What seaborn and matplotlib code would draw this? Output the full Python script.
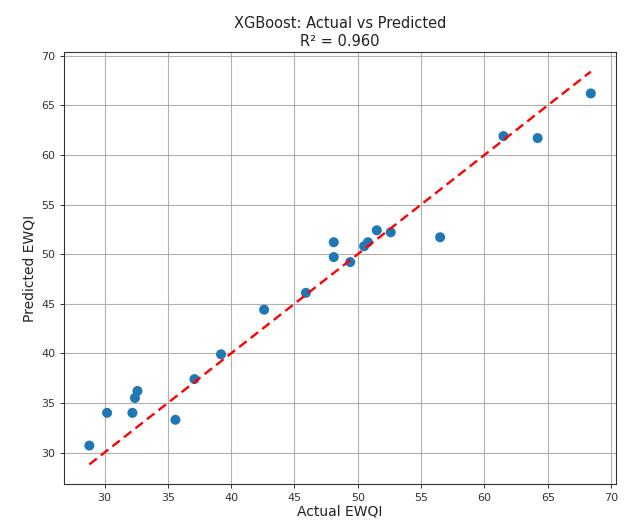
import matplotlib
matplotlib.use("Agg")
import matplotlib.pyplot as plt
import seaborn as sns
import numpy as np
import pandas as pd

actual = [28.8, 30.2, 32.2, 32.4, 32.6, 35.6, 37.1, 39.2, 42.6, 45.9,
          48.1, 48.1, 49.4, 50.5, 50.8, 51.5, 52.6, 56.5, 61.5, 64.2, 68.4]
predicted = [30.7, 34.0, 34.0, 35.5, 36.2, 33.3, 37.4, 39.9, 44.4, 46.1,
             51.2, 49.7, 49.2, 50.8, 51.2, 52.4, 52.2, 51.7, 61.9, 61.7, 66.2]
title = "XGBoost: Actual vs Predicted\nR\u00b2 = 0.960"
xlabel = "Actual EWQI"
ylabel = "Predicted EWQI"

df = pd.DataFrame({"Actual": actual, "Predicted": predicted})

sns.set_style("white")
plt.rcParams['font.family'] = ['DejaVu Sans']

fig = plt.figure(figsize=(6.24, 5.25), dpi=100)
ax = fig.add_axes([0.103, 0.078, 0.884, 0.823])

sns.scatterplot(data=df, x="Actual", y="Predicted", ax=ax, s=52,
                color="#1f77b4", edgecolor="none", zorder=3)
lo, hi = min(actual), max(actual)
ax.plot([lo, hi], [lo, hi], color="red", linestyle="--", linewidth=1.7,
        dashes=(4, 2.2), zorder=4)

ax.set_title(title, fontsize=10.5, color="#222222", pad=4, linespacing=1.25)
ax.set_xlabel(xlabel, fontsize=10, color="#222222", labelpad=1)
ax.set_ylabel(ylabel, fontsize=10, color="#222222", labelpad=3)
ax.tick_params(labelsize=8, length=3, width=0.7, colors="#333333", left=True, bottom=True)
ax.set_xticks([30, 35, 40, 45, 50, 55, 60, 65, 70])
ax.set_yticks([30, 35, 40, 45, 50, 55, 60, 65, 70])
ax.grid(True, color="#a8a8a8", linewidth=0.8, alpha=0.9)
ax.set_axisbelow(True)
for s in ax.spines.values():
    s.set_color("#333333")
    s.set_linewidth(0.8)
    s.set_visible(True)

fig.savefig("out.png", dpi=100)
